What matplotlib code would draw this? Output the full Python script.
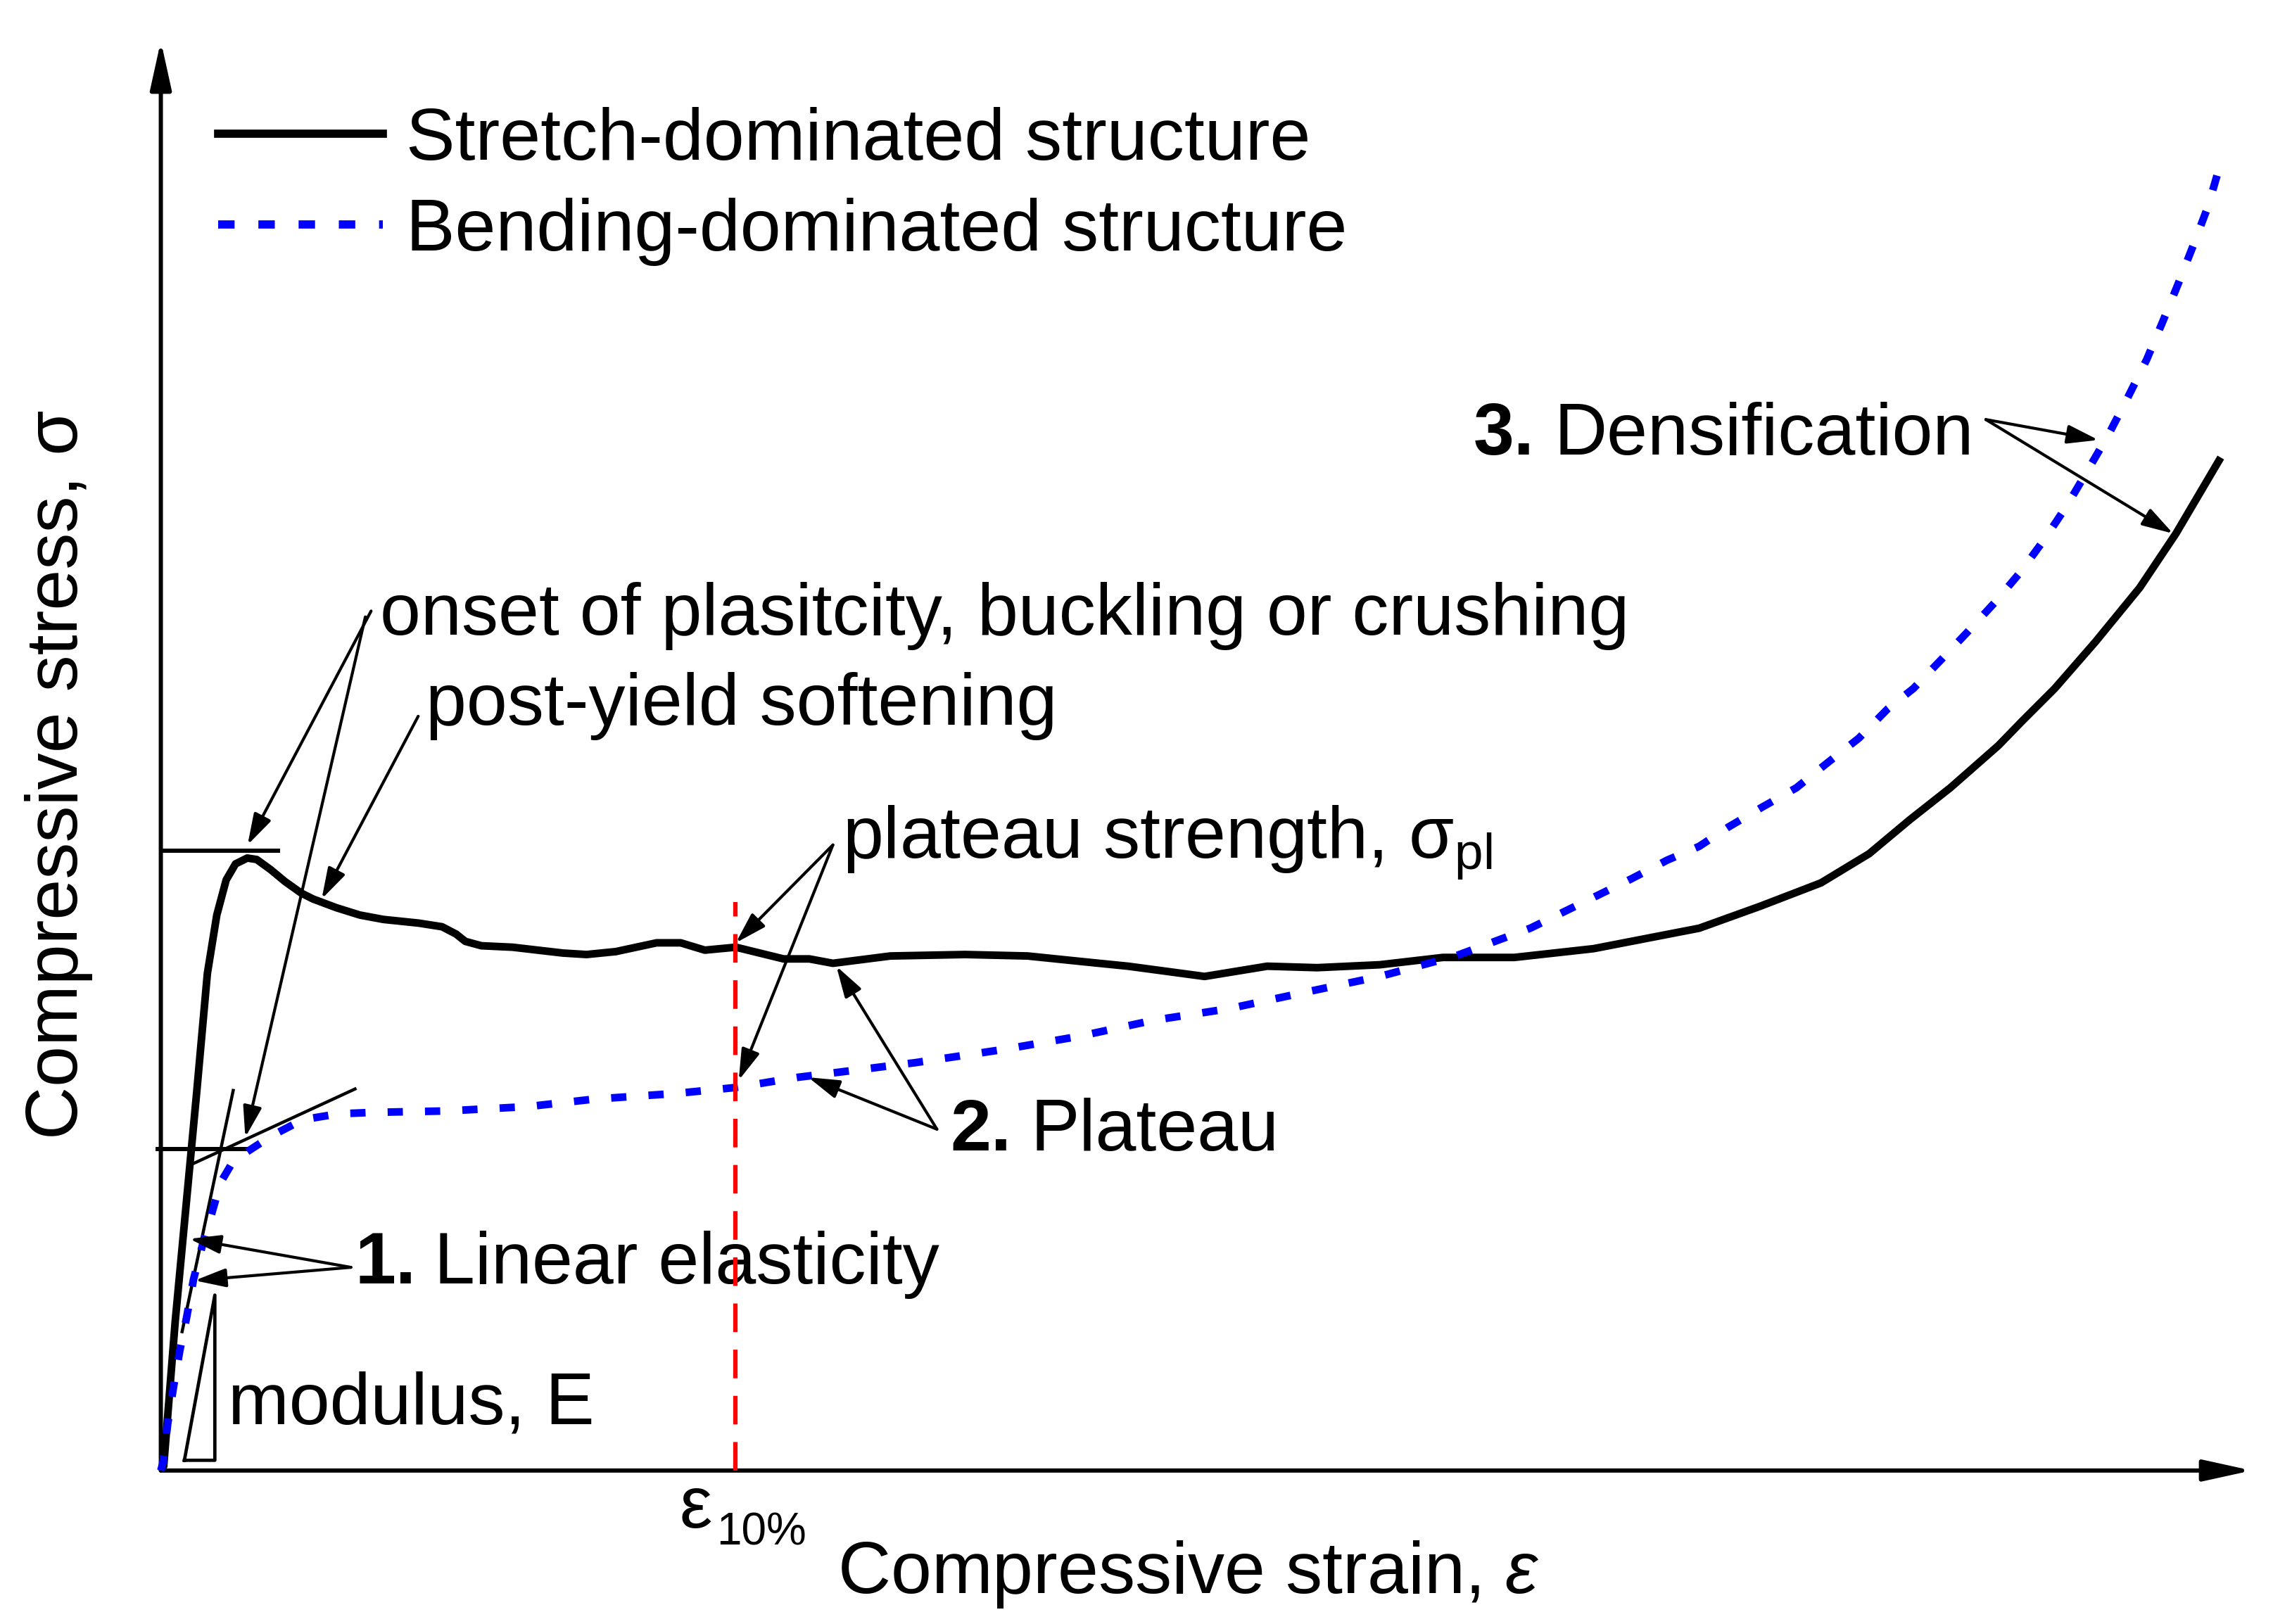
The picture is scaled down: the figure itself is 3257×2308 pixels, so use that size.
import matplotlib
matplotlib.use('Agg')
import matplotlib.pyplot as plt
from matplotlib.lines import Line2D

# strain in %, stress in arbitrary units (schematic curves)
stretch_strain = [0, 0.05, 0.25, 0.46, 0.627, 0.81, 0.974, 1.137, 1.30, 1.505, 1.669, 1.914,
                  2.159, 2.445, 2.649, 3.057, 3.465, 3.874, 4.487, 4.895, 5.14, 5.30, 5.58, 6.12,
                  7.00, 7.41, 7.92, 8.63, 9.05, 9.47, 10.01, 10.84, 11.29, 11.70, 12.70, 14.00,
                  15.09, 16.08, 16.84, 18.17, 19.26, 20.13, 21.22, 22.32, 23.56, 24.94, 26.78,
                  27.84, 28.90, 29.74, 30.44, 31.15, 31.99, 32.41, 32.97, 33.68, 34.45, 35.08,
                  35.59, 35.86]
stretch_stress = [0, 0.03, 1.02, 1.90, 2.60, 3.40, 3.80, 4.04, 4.15, 4.19, 4.18, 4.11,
                  4.03, 3.95, 3.91, 3.85, 3.80, 3.77, 3.745, 3.72, 3.67, 3.62, 3.59, 3.58,
                  3.54, 3.53, 3.55, 3.61, 3.61, 3.56, 3.58, 3.50, 3.50, 3.47, 3.52, 3.53,
                  3.52, 3.48, 3.45, 3.38, 3.45, 3.44, 3.46, 3.51, 3.51, 3.57, 3.71,
                  3.86, 4.02, 4.22, 4.45, 4.67, 4.96, 5.13, 5.35, 5.67, 6.04, 6.41,
                  6.75, 6.93]

bending_strain = [0, 0.04, 0.12, 0.22, 0.33, 0.45, 0.57, 0.71, 0.88, 1.04, 1.22, 1.42, 1.93, 2.47,
                  3.08, 3.69, 4.99, 6.40, 7.52, 8.98, 10.00, 11.09, 13.13, 14.66, 15.98, 17.28,
                  18.60, 19.90, 21.22, 22.54, 23.84, 25.04, 25.61, 26.22, 26.78, 27.28, 27.84,
                  28.47, 29.04, 29.56, 30.06, 30.51, 31.00, 31.46, 31.93, 32.36, 32.79, 33.18,
                  33.54, 33.91, 34.24, 34.57, 34.85, 35.12, 35.38, 35.64, 35.81]
bending_stress = [0, 0.06, 0.32, 0.57, 0.82, 1.05, 1.31, 1.52, 1.75, 1.97, 2.09, 2.16, 2.29, 2.40,
                  2.44, 2.45, 2.46, 2.49, 2.54, 2.58, 2.62, 2.69, 2.79, 2.88, 2.97, 3.08,
                  3.16, 3.27, 3.38, 3.52, 3.71, 3.94, 4.05, 4.175, 4.27, 4.40, 4.53,
                  4.67, 4.85, 5.01, 5.21, 5.35, 5.55, 5.74, 5.94, 6.14, 6.37, 6.60,
                  6.84, 7.09, 7.34, 7.60, 7.86, 8.12, 8.38, 8.65, 8.88]

strain_10 = 10.0          # epsilon_10%
peak_stress = 4.24        # stretch-dominated yield peak
knee_stress = 2.20        # bending-dominated knee

plt.rcParams['font.family'] = ['Liberation Sans', 'DejaVu Sans']
plt.rcParams['mathtext.fontset'] = 'custom'
plt.rcParams['mathtext.rm'] = 'Liberation Sans'
plt.rcParams['mathtext.it'] = 'Liberation Sans:italic'
plt.rcParams['mathtext.bf'] = 'Liberation Sans:bold'

FS = 75
BLUE = '#0000ff'
fig = plt.figure(figsize=(32.57, 23.08), dpi=100)
ax = fig.add_axes([0, 0, 1, 1])
ax.set_xlim(-2.8, 37.1)
ax.set_ylim(-1.05, 10.06)
ax.axis('off')

# axes with arrow heads
axis_arrow = dict(arrowstyle='-|>,head_length=1,head_width=0.22', mutation_scale=42,
                  lw=4.3, color='k', shrinkA=0, shrinkB=0)
ax.annotate('', xy=(36.4, 0), xytext=(0, 0), arrowprops=axis_arrow)
ax.annotate('', xy=(0, 9.78), xytext=(0, 0), arrowprops=axis_arrow)

# curves
ax.plot(stretch_strain, stretch_stress, color='k', lw=7.8,
        solid_joinstyle='round', solid_capstyle='butt', zorder=3)
ax.plot(bending_strain, bending_stress, color=BLUE, lw=7.8, ls=(0, (2.0, 2.9)), zorder=4)

# red epsilon_10% line
ax.plot([strain_10, strain_10], [0, 3.89], color='#ff0000', lw=4.5, ls=(0, (6.5, 4.0)), zorder=5)

# construction lines
ax.plot([0, 2.04], [peak_stress, peak_stress], color='k', lw=4.3, zorder=2)
ax.plot([-0.05, 1.58], [knee_stress, knee_stress], color='k', lw=4.3, zorder=2)
ax.plot([0.51, 3.38], [2.09, 2.61], color='k', lw=3.2, zorder=2)
ax.plot([0.37, 1.26], [0.95, 2.60], color='k', lw=3.2, zorder=2)
ax.plot([0.41, 0.94, 0.94, 0.41], [0.07, 0.07, 1.20, 0.07], color='k', lw=3.4, zorder=2)

# legend
handles = [Line2D([], [], color='k', lw=8.4),
           Line2D([], [], color=BLUE, lw=8.4, ls=(0, (2.0, 2.9)))]
ax.legend(handles, ['Stretch-dominated structure', 'Bending-dominated structure'],
          loc='upper left', bbox_to_anchor=(1.0, 9.33), bbox_transform=ax.transData,
          frameon=False, fontsize=FS, handlelength=2.24, handletextpad=0.32,
          borderpad=0, borderaxespad=0, labelspacing=0.31)

# arrows
arr = dict(arrowstyle='-|>,head_length=1,head_width=0.3', mutation_scale=27,
           lw=3, color='k', shrinkA=0, shrinkB=0)
for start, tip in [((3.66, 5.88), (1.51, 4.28)), ((3.56, 5.84), (1.47, 2.28)),
                   ((4.48, 5.16), (2.80, 3.91)),
                   ((11.70, 4.28), (10.01, 3.61)), ((11.70, 4.28), (10.06, 2.67)),
                   ((13.51, 2.335), (11.76, 3.45)), ((13.51, 2.335), (11.27, 2.69)),
                   ((31.77, 7.19), (33.73, 7.05)), ((31.77, 7.19), (35.03, 6.41)),
                   ((3.31, 1.39), (0.50, 1.585)), ((3.31, 1.39), (0.59, 1.30))]:
    ax.annotate('', xy=tip, xytext=start, arrowprops=arr, zorder=6)

# text
ax.text(3.82, 5.72, 'onset of plasitcity, buckling or crushing', fontsize=FS, va='baseline')
ax.text(4.61, 5.10, 'post-yield softening', fontsize=FS, va='baseline')
ax.text(11.86, 4.19, r'plateau strength, σ$_{\mathrm{pl}}$', fontsize=FS, va='baseline')
ax.text(13.74, 2.19, '2.', fontsize=FS, fontweight='bold', va='baseline')
ax.text(15.14, 2.19, 'Plateau', fontsize=FS, va='baseline')
ax.text(22.85, 6.95, '3.', fontsize=FS, fontweight='bold', va='baseline')
ax.text(24.25, 6.95, 'Densification', fontsize=FS, va='baseline')
ax.text(3.38, 1.28, '1.', fontsize=FS, fontweight='bold', va='baseline')
ax.text(4.76, 1.28, 'Linear elasticity', fontsize=FS, va='baseline')
ax.text(1.17, 0.32, 'modulus, E', fontsize=FS, va='baseline')
ax.text(9.03, -0.39, 'ε', fontsize=FS, va='baseline')
ax.text(9.67, -0.51, '10%', fontsize=46, va='baseline')
ax.text(11.78, -0.84, r'Compressive strain, $\mathit{ε}$', fontsize=FS, va='baseline')
ax.text(-1.78, 4.76, 'Compressive stress, σ', fontsize=FS, rotation=90, ha='center', va='center')

fig.savefig('out.png', dpi=100)
